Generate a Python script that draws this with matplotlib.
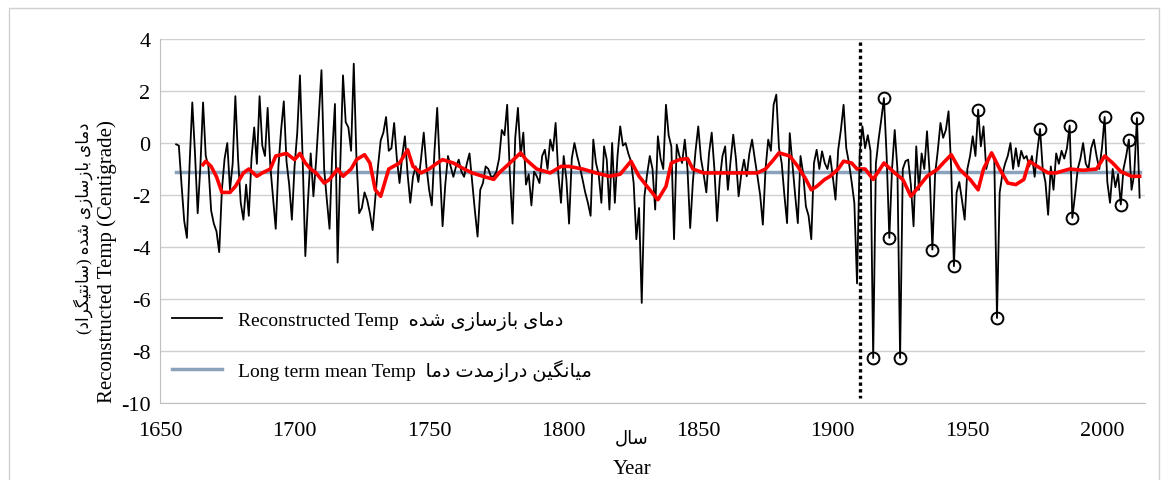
import numpy as np
import matplotlib
matplotlib.use("Agg")
import matplotlib.pyplot as plt
from matplotlib.lines import Line2D
from matplotlib.patches import Rectangle

# -------- data --------

years = np.arange(1656, 2015)

# reconstructed temperature, one value per year
temp = [
    -0.05, -0.1, -1.6, -3.0,                                        # 1656-1659
    -3.65, -0.8, 1.56, -0.4, -2.7, -0.9, 1.56, -0.5, -0.9, -2.6,    # 1660s
    -3.1, -3.4, -4.2, -1.8, -0.6, 0.0, -1.8, -0.8, 1.8, -0.6,       # 1670s
    -2.3, -2.95, -1.6, -2.8, -0.6, 0.6, -0.8, 1.8, -0.1, -0.5,      # 1680s
    1.35, -0.9, -2.1, -3.3, -0.9, 0.5, 1.6, -0.7, -1.6, -2.95,      # 1690s
    -0.9, 0.4, 2.6, -0.6, -4.35, -2.2, -0.4, -2.05, -0.7, 1.0,      # 1700s
    2.8, -1.0, -2.2, -3.3, -0.4, 1.5, -4.6, -0.8, 2.6, 0.8,         # 1710s
    0.6, -0.3, 3.05, -0.6, -2.7, -2.5, -1.9, -2.2, -2.7, -3.35,     # 1720s
    -2.1, -0.9, 0.1, 0.4, 1.0, -0.3, -0.2, 0.77, -0.6, -1.54,       # 1730s
    -0.5, 0.26, -1.2, -2.3, -1.3, -0.9, -1.5, -0.6, 0.4, -0.9,      # 1740s
    -1.8, -2.4, -0.3, 1.35, -1.0, -3.2, -1.6, -0.5, -0.9, -1.3,     # 1750s
    -0.9, -0.64, -1.1, -1.3, -0.8, -0.4, -1.5, -2.6, -3.6, -1.8,    # 1760s
    -1.54, -0.9, -1.0, -1.3, -1.28, -1.1, -0.6, 0.5, 0.3, 1.47,     # 1770s
    -1.2, -3.1, 0.2, 1.35, -0.5, 0.4, -1.6, -1.2, -2.4, -1.1,       # 1780s
    -1.28, -1.54, -0.5, -0.26, -1.0, 0.13, -0.3, 0.77, -1.2, -2.3,  # 1790s
    -0.5, -1.4, -3.1, -0.6, 0.0, -0.5, -0.9, -1.4, -1.9, -2.3,      # 1800s
    -2.8, 0.13, -0.77, -1.2, -2.3, -0.13, -0.64, -2.56, 0.0, -2.3,  # 1810s
    -0.5, 0.64, -0.1, 0.0, -0.4, -0.7, -1.54, -3.7, -2.5, -6.15,    # 1820s
    -2.05, -1.2, -0.5, -1.0, -2.56, 0.26, -0.6, -1.0, 1.47, 0.3,    # 1830s
    -0.13, -3.7, -0.06, -0.5, -0.77, 0.13, -1.0, -3.27, -1.5, -0.3, # 1840s
    0.64, -0.6, -1.2, -1.9, -0.4, 0.4, -1.0, -3.0, -1.4, -0.5,      # 1850s
    -0.13, -1.8, -0.7, 0.32, -0.6, -2.05, -1.2, -0.64, -1.28, -0.4, # 1860s
    0.13, -0.6, -1.28, -2.0, -3.14, -1.0, 0.13, -0.3, 1.47, 1.86,   # 1870s
    -0.2, -0.77, -2.0, -3.08, 0.38, -0.8, -2.0, -3.08, -0.5, -1.2,  # 1880s
    -2.44, -2.8, -3.7, -0.77, -0.26, -1.0, -0.32, -0.77, -1.0, -0.5, # 1890s
    -1.3, -2.18, -0.26, 0.5, 1.47, -0.2, -0.77, -1.5, -2.3, -5.4,   # 1900s
    -0.4, 0.64, -0.2, 0.3, -0.3, -8.27, -0.8, 0.13, 0.9, 1.73,      # 1910s
    -0.5, -3.65, -1.0, 0.5, -1.0, -8.27, -1.0, -0.7, -0.64, -1.6,   # 1920s
    -3.2, -0.13, -1.8, -0.4, -1.0, 0.45, -1.2, -4.1, -1.2, -0.3,    # 1930s
    0.77, 0.2, 0.5, 1.22, -1.0, -4.74, -1.9, -1.5, -2.2, -2.95,     # 1940s
    -1.0, -0.5, 0.26, -0.5, 1.28, -0.13, 0.64, -1.0, -0.6, -0.4,    # 1950s
    -0.6, -6.73, -1.9, -1.2, -0.8, -0.5, 0.0, -1.0, -0.2, -0.9,     # 1960s
    -0.3, -0.6, -0.5, -0.9, -0.5, -1.3, -0.3, 0.54, -1.0, -1.5,     # 1970s
    -2.76, -0.9, -1.8, -0.4, -0.8, -0.3, -0.6, -0.2, 0.67, -2.88,   # 1980s
    -2.0, -1.0, -0.6, 0.0, -0.8, -1.0, -0.2, 0.13, -0.5, -1.0,      # 1990s
    -0.2, 1.0, -1.5, -2.3, -1.0, -1.7, -1.2, -2.37, -1.0, -0.5,     # 2000s
    0.13, -1.8, -1.2, 0.96, -2.1,                                   # 2010s
]
temp = np.array(temp)

long_term_mean = -1.13

# smoothed (red) curve
trend_years = [1666, 1667, 1669, 1671, 1673, 1676, 1678, 1681, 1683, 1686,
               1688, 1691, 1693, 1697, 1700, 1702, 1704, 1706, 1708, 1711,
               1713, 1716, 1718, 1721, 1723, 1726, 1728, 1730, 1732, 1735,
               1739, 1742, 1744, 1747, 1750, 1753, 1755, 1759, 1763, 1766,
               1770, 1774, 1776, 1780, 1784, 1786, 1790, 1795, 1799, 1802,
               1807, 1812, 1817, 1821, 1825, 1828, 1832, 1835, 1838, 1840,
               1843, 1846, 1848, 1852, 1857, 1862, 1867, 1872, 1875, 1878,
               1880, 1884, 1887, 1890, 1892, 1894, 1897, 1899, 1902, 1904,
               1907, 1909, 1912, 1915, 1919, 1923, 1926, 1929, 1931, 1935,
               1939, 1941, 1944, 1947, 1951, 1954, 1956, 1959, 1962, 1965,
               1968, 1971, 1973, 1976, 1980, 1983, 1988, 1993, 1998, 2001,
               2004, 2007, 2011, 2014]
trend_temp = [-0.83, -0.7, -0.9, -1.3, -1.9, -1.9, -1.67, -1.15, -1.0, -1.28,
              -1.15, -1.0, -0.5, -0.4, -0.64, -0.4, -0.77, -1.0, -1.15, -1.54,
              -1.4, -1.0, -1.28, -1.0, -0.64, -0.45, -0.77, -1.8, -2.05, -1.0,
              -0.77, -0.26, -0.9, -1.15, -1.0, -0.77, -0.64, -0.77, -1.0, -1.15,
              -1.28, -1.4, -1.15, -0.77, -0.38, -0.64, -1.0, -1.15, -0.9, -0.9,
              -1.0, -1.15, -1.28, -1.2, -0.7, -1.28, -1.8, -2.18, -1.67, -0.77,
              -0.64, -0.6, -1.0, -1.15, -1.15, -1.15, -1.15, -1.15, -1.0, -0.64,
              -0.38, -0.5, -0.9, -1.4, -1.8, -1.67, -1.4, -1.28, -1.0, -0.7,
              -0.77, -1.0, -1.0, -1.4, -0.77, -1.15, -1.4, -2.05, -1.8, -1.28,
              -1.0, -0.77, -0.45, -1.0, -1.4, -1.8, -1.0, -0.38, -1.0, -1.54,
              -1.6, -1.4, -0.7, -0.9, -1.15, -1.15, -1.0, -1.05, -1.0, -0.5,
              -0.77, -1.1, -1.28, -1.28]

# extreme years marked with circles
circled_years = [1915, 1919, 1921, 1925, 1937, 1945, 1954, 1961,
                 1977, 1988, 1989, 2001, 2007, 2010, 2013]

break_year = 1910
xticks = [1650, 1700, 1750, 1800, 1850, 1900, 1950, 2000]
yticks = [4, 2, 0, -2, -4, -6, -8, -10]


# -------- persian text (pre-shaped, visual order) --------

def rtl(*words):
    return " ".join(w[::-1] for w in reversed(words))


DAMAYE = "\uFEA9\uFEE3\uFE8E\uFEEF"
BAZSAZI = "\uFE91\uFE8E\uFEAF\uFEB3\uFE8E\uFEAF\uFEEF"
SHODE = "\uFEB7\uFEAA\uFEE9"
SANTIGRAD = "\uFEB3\uFE8E\uFEE7\uFE98\uFEF4\uFB95\uFEAE\uFE8D\uFEA9"
SAL = "\uFEB3\uFE8E\uFEDD"
MIANGIN = "\uFEE3\uFEF4\uFE8E\uFEE7\uFB95\uFEF4\uFEE6"
DERAZMODAT = "\uFEA9\uFEAD\uFE8D\uFEAF\uFEE3\uFEAA\uFE95"
DAMA = "\uFEA9\uFEE3\uFE8E"

fa_ylabel = "(" + SANTIGRAD[::-1] + ") " + rtl(DAMAYE, BAZSAZI, SHODE)
label_recon = "Reconstructed Temp  " + rtl(DAMAYE, BAZSAZI, SHODE)
label_mean = "Long term mean Temp  " + rtl(MIANGIN, DERAZMODAT, DAMA)


# -------- plot --------

plt.rcParams["font.family"] = ["Liberation Serif", "DejaVu Sans"]
plt.rcParams["axes.unicode_minus"] = False

W, H = 1168, 481
fig = plt.figure(figsize=(W / 100, H / 100), dpi=100)
ax = fig.add_axes([160 / W, 1 - 404 / H, (1145 - 160) / W, (404 - 40) / H])

blue = "#8aa2bb"
ax.plot([years[0], years[-1]], [long_term_mean, long_term_mean],
        color=blue, lw=2.5, zorder=2)
ax.plot(years, temp, color="black", lw=1.3, zorder=3)
ax.plot(trend_years, trend_temp, color="#ff0000", lw=2.6, zorder=4)

idx = np.searchsorted(years, circled_years)
ax.plot(circled_years, temp[idx], "o", ms=8.5, mfc="none", mec="black",
        mew=1.4, zorder=5)

ax.plot([break_year, break_year], [3.9, -9.8], color="black", lw=2.4,
        ls=(0, (1, 1)), zorder=5)

ax.set_xlim(1650, 2016)
ax.set_ylim(-10, 4)
ax.set_xticks(xticks)
ax.set_yticks(yticks)
ax.tick_params(length=0, labelsize=16)
ax.tick_params(axis="x", pad=13)
ax.tick_params(axis="y", pad=7)
ax.grid(axis="y", color="#d0d0d0", lw=1)
ax.set_axisbelow(True)
for side in ["top", "right"]:
    ax.spines[side].set_visible(False)
for side in ["left", "bottom"]:
    ax.spines[side].set_color("#bfbfbf")

handles = [Line2D([], [], color="black", lw=1.3),
           Line2D([], [], color=blue, lw=2.5)]
ax.legend(handles, [label_recon, label_mean], loc="lower left",
          bbox_to_anchor=(0.012, 0.06), frameon=False, fontsize=14,
          handlelength=2.6, handletextpad=0.8, labelspacing=1.5,
          borderpad=0, borderaxespad=0)

fig.text(107 / W, 1 - 262 / H, "Reconstructed Temp (Centigrade)",
         rotation=90, ha="center", va="center", fontsize=15)
fig.text(83 / W, 1 - 228 / H, fa_ylabel, rotation=90, ha="center",
         va="center", fontsize=12)
fig.text(632 / W, 1 - 439 / H, rtl(SAL), ha="center", va="center", fontsize=13)
fig.text(632 / W, 1 - 470 / H, "Year", ha="center", va="center", fontsize=15)

fig.patches.append(Rectangle((9 / W, -0.1), (1159 - 9) / W, 1.1 - 9 / H,
                             transform=fig.transFigure, fill=False,
                             ec="#d0d0d0", lw=1))

fig.savefig("out.png", dpi=100)
